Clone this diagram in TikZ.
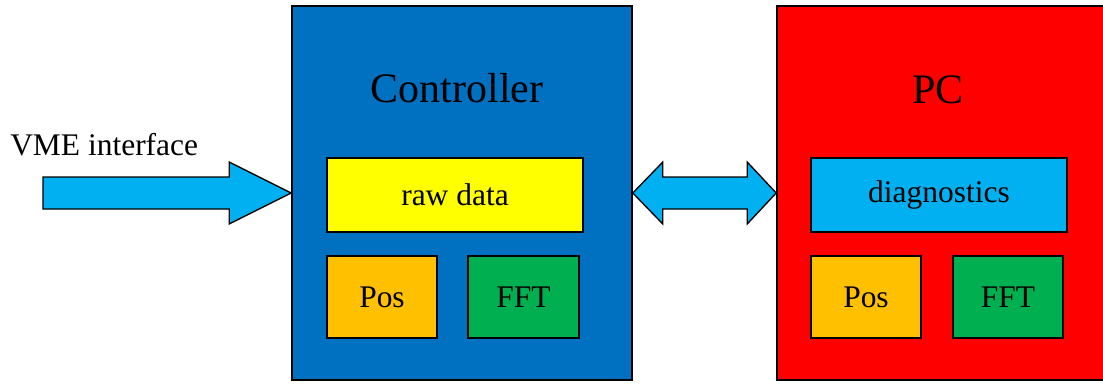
\documentclass[tikz,border=0pt]{standalone}
\usepackage{fontspec}
\setmainfont{Liberation Serif}
\usetikzlibrary{calc}

\definecolor{ctrlblue}{RGB}{0,112,192}
\definecolor{lightblue}{RGB}{0,176,240}
\definecolor{pcred}{RGB}{255,0,0}
\definecolor{rawyellow}{RGB}{255,255,0}
\definecolor{posorange}{RGB}{255,192,0}
\definecolor{fftgreen}{RGB}{0,176,80}

\newcommand{\bodysize}{\fontsize{23.6}{28}\selectfont}
\newcommand{\titlesize}{\fontsize{31.5}{36}\selectfont}

\tikzset{
  unit/.style={draw=black, line width=1.2pt, inner sep=0pt, minimum width=255pt, minimum height=280.5pt},
  wide/.style={draw=black, line width=1.2pt, inner sep=0pt, minimum width=192pt, minimum height=55.5pt, font=\bodysize},
  small/.style={draw=black, line width=1.2pt, inner sep=0pt, minimum width=82.5pt, minimum height=61.5pt, font=\bodysize},
  blockarrow/.style={draw=black, line width=1pt, fill=lightblue, line join=miter}
}

\begin{document}
\begin{tikzpicture}[x=0.75pt,y=0.75pt,yscale=-1,xscale=1]
\useasboundingbox (0,0) rectangle (1103,383);

% the two units
\node [unit, fill=ctrlblue] (ctrl) at (462,193) {};
\node [unit, fill=pcred, minimum width=250.5pt] (pc) at (944,193) {};

\node [font=\titlesize, inner sep=0pt] (ctrltitle) at (457,88) {Controller};
\node [font=\titlesize, inner sep=0pt] (pctitle) at (938,90) {PC};

% controller contents
\node [wide, fill=rawyellow] (raw) at (455,195) {raw data};
\node [small, fill=posorange] (ctrlpos) at (382,297) {Pos};
\node [small, fill=fftgreen, minimum width=83.25pt] (ctrlfft) at (523.5,297) {FFT};

% pc contents
\node [wide, fill=lightblue] (diag) at (939,195) {diagnostics};
\node [small, fill=posorange] (pcpos) at (866,297) {Pos};
\node [small, fill=fftgreen] (pcfft) at (1008,297) {FFT};

% input arrow
\coordinate (vmein) at (43,193);
\node [font=\bodysize, inner sep=0pt, anchor=west] (vmelabel) at (10,145) {VME interface};
\draw [blockarrow] (ctrl.west) -- ++(-62,-31) -- ++(0,15) -- ($(vmein)+(0,-16)$) -- ($(vmein)+(0,16)$) -- ($(ctrl.west)+(-62,16)$) -- ++(0,15) -- cycle;

% link between controller and pc
\draw [blockarrow] (ctrl.east) -- ++(30,-31) -- ++(0,15) -- ($(pc.west)+(-29,-16)$) -- ++(0,-15) -- (pc.west) -- ++(-29,31) -- ++(0,-15) -- ($(ctrl.east)+(30,16)$) -- ++(0,15) -- cycle;

\end{tikzpicture}
\end{document}
